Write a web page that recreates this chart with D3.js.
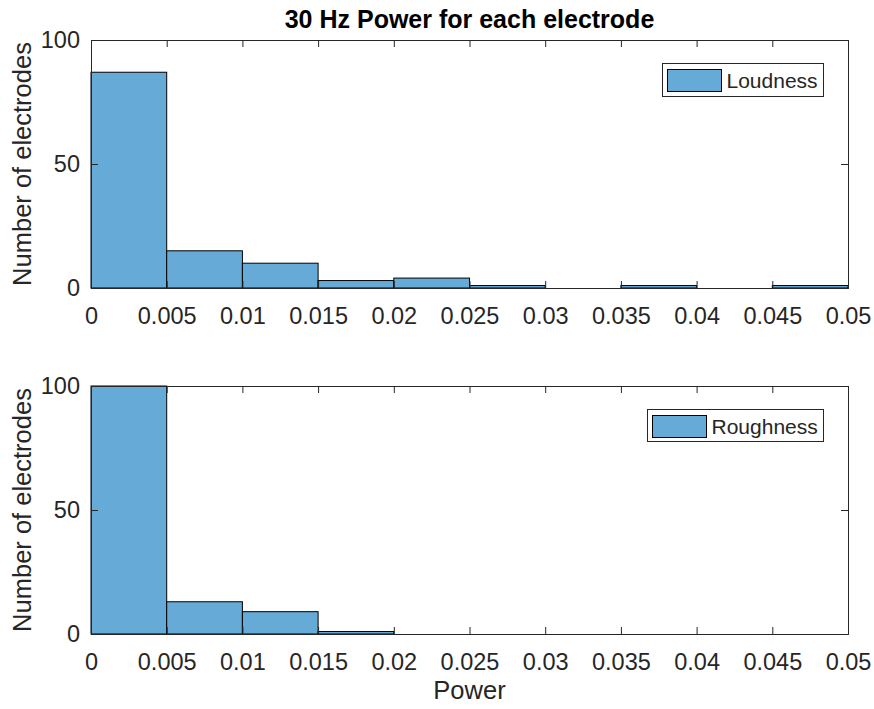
<!DOCTYPE html>
<html><head><meta charset="utf-8">
<script src="https://cdn.jsdelivr.net/npm/d3@7"></script>
<style>body{margin:0;background:#fff}svg{display:block}text{font-family:"Liberation Sans",Arial,sans-serif}</style>
</head><body>
<svg id="c" width="874" height="709"></svg>
<script>
const binEdges = [0,0.005,0.01,0.015,0.02,0.025,0.03,0.035,0.04,0.045,0.05];
const loudness = [87,15,10,3,4,1,0,1,0,1];
const roughness = [100,13,9,1,0,0,0,0,0,0];
const xTicks = [0,0.005,0.01,0.015,0.02,0.025,0.03,0.035,0.04,0.045,0.05];
const yTicks = [0,50,100];
const title = "30 Hz Power for each electrode";
const xLabel = "Power";
const yLabel = "Number of electrodes";

const svg = d3.select("#c");
const axCol = "#262626";
const fill = "rgb(102,170,215)";
const L = 91, R = 848;
const panels = [
  {top:40, bot:288, data:loudness, name:"Loudness", lg:{x:662.5,y:63.5,w:161,h:33}},
  {top:386, bot:634, data:roughness, name:"Roughness", lg:{x:647.5,y:409.5,w:176,h:32}}
];
const x = d3.scaleLinear().domain([0,0.05]).range([L,R]);

panels.forEach(p => {
  const y = d3.scaleLinear().domain([0,100]).range([p.bot,p.top]);
  const g = svg.append("g");
  const bins = p.data.map((v,i)=>({x0:binEdges[i],x1:binEdges[i+1],v}));
  g.selectAll("rect.bar").data(bins).join("rect")
    .attr("x",d=>x(d.x0)).attr("width",d=>x(d.x1)-x(d.x0))
    .attr("y",d=>y(d.v)).attr("height",d=>y(0)-y(d.v))
    .attr("fill",fill).attr("stroke","#000").attr("stroke-width",1);
  const fmt = d=>d3.format("~g")(d);
  const xb = g.append("g").attr("transform",`translate(0,${p.bot})`)
    .call(d3.axisBottom(x).tickValues(xTicks).tickSize(-7).tickPadding(19).tickFormat(fmt));
  const xt = g.append("g").attr("transform",`translate(0,${p.top})`)
    .call(d3.axisTop(x).tickValues(xTicks).tickSize(-7).tickFormat(""));
  const yl = g.append("g").attr("transform",`translate(${L},0)`)
    .call(d3.axisLeft(y).tickValues(yTicks).tickSize(-7).tickPadding(11).tickFormat(d3.format("d")));
  const yr = g.append("g").attr("transform",`translate(${R},0)`)
    .call(d3.axisRight(y).tickValues(yTicks).tickSize(-7).tickFormat(""));
  [xb,xt,yl,yr].forEach(a=>{
    a.selectAll("path.domain").attr("stroke",axCol).attr("stroke-width",1);
    a.selectAll(".tick line").attr("stroke",axCol);
    a.selectAll("text").attr("fill",axCol).style("font-size","23.5px");
  });
  g.append("text").attr("transform",`translate(31,${(p.top+p.bot)/2}) rotate(-90)`)
    .attr("text-anchor","middle").attr("fill",axCol).style("font-size","25.5px").text(yLabel);
  const lg = p.lg;
  g.append("rect").attr("x",lg.x).attr("y",lg.y).attr("width",lg.w).attr("height",lg.h)
    .attr("fill","#fff").attr("stroke",axCol).attr("stroke-width",1);
  g.append("rect").attr("x",lg.x+5).attr("y",lg.y+6).attr("width",54).attr("height",22)
    .attr("fill",fill).attr("stroke","#000").attr("stroke-width",1);
  g.append("text").attr("x",lg.x+64).attr("y",lg.y+24.8).attr("fill",axCol)
    .style("font-size","21px").text(p.name);
});
svg.append("text").attr("x",(L+R)/2).attr("y",28).attr("text-anchor","middle")
  .attr("fill","#000").style("font-size","25px").style("font-weight","bold").text(title);
svg.append("text").attr("x",(L+R)/2).attr("y",699).attr("text-anchor","middle")
  .attr("fill",axCol).style("font-size","25.5px").text(xLabel);
</script>
</body></html>
